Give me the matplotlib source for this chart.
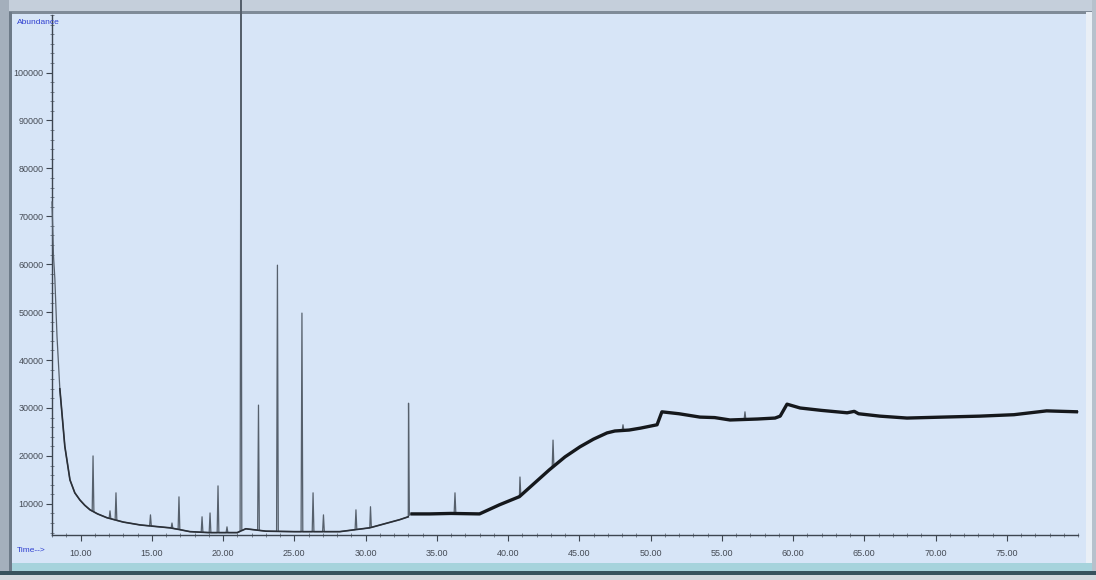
import numpy as np
import matplotlib
matplotlib.use("Agg")
import matplotlib.pyplot as plt
from matplotlib.patches import Rectangle
from matplotlib.ticker import MultipleLocator, FixedLocator

# ---- data ----
# baseline (time in min, abundance)
base_t = [8.0, 8.1, 8.2, 8.35, 8.55, 8.9, 9.26, 9.6, 9.96, 10.3, 10.67, 11.2, 11.86,
          13.0, 14.18, 15.2, 16.28, 17.0, 17.68, 19.0, 21.0, 21.6, 23.0, 25.0, 28.2,
          30.3, 32.4, 33.0, 33.15, 34.5, 36.0, 38.0, 39.4, 40.8, 42.9, 44.0, 45.05,
          46.0, 46.95, 47.5, 48.5, 49.3, 50.46, 50.8, 52.0, 53.47, 54.5, 55.58, 57.5,
          58.74, 59.1, 59.58, 60.5, 62.0, 63.8, 64.3, 64.6, 66.1, 68.0, 70.5, 73.1,
          75.5, 77.8, 80.0]
base_a = [73000, 62000, 57000, 45000, 34000, 22000, 15000, 12300, 10800, 9700, 8750, 7900, 7100,
          6200, 5600, 5300, 5000, 4600, 4200, 4000, 4000, 4800, 4300, 4200, 4200,
          5000, 6700, 7300, 7900, 7900, 8000, 7900, 9800, 11500, 17100, 19800, 21900,
          23500, 24800, 25200, 25400, 25800, 26500, 29200, 28800, 28100, 28000, 27500, 27700,
          27900, 28300, 30800, 30000, 29500, 29000, 29300, 28800, 28300, 27900, 28100, 28300,
          28600, 29400, 29200]
# peaks (retention time in min, apex abundance)
peak_t = [10.88, 12.07, 12.49, 14.91, 16.42, 16.91, 18.53, 19.09, 19.65, 20.28,
          21.26, 22.49, 23.82, 25.54, 26.32, 27.05, 29.33, 30.35, 33.02, 36.28,
          40.84, 43.16, 48.07, 56.63]
peak_a = [20000, 8540, 12300, 7700, 6000, 11460, 7300, 8100, 13750, 5200,
          118000, 30600, 59800, 49800, 12300, 7700, 8750, 9400, 31000, 12300,
          15600, 23300, 26500, 29200]

y_ticks = [10000, 20000, 30000, 40000, 50000, 60000, 70000, 80000, 90000, 100000]
x_ticks = [10, 15, 20, 25, 30, 35, 40, 45, 50, 55, 60, 65, 70, 75]
x_labels = ["%.2f" % v for v in x_ticks]

# ---- build trace: baseline plus narrow peaks ----
w = 0.06
pts = list(zip(base_t, base_a))
for t, a in zip(peak_t, peak_a):
    pts.append((t - w, float(np.interp(t - w, base_t, base_a))))
    pts.append((t, a))
    pts.append((t + w, float(np.interp(t + w, base_t, base_a))))
pts.sort(key=lambda p: p[0])
tr_t = [p[0] for p in pts]
tr_a = [p[1] for p in pts]

BG = "#d7e5f7"
fig = plt.figure(figsize=(10.96, 5.8), dpi=100, facecolor=BG)

# window chrome
def frect(x0, y0, x1, y1, color):
    fig.patches.append(Rectangle((x0 / 1096, 1 - y1 / 580), (x1 - x0) / 1096, (y1 - y0) / 580,
                                 transform=fig.transFigure, facecolor=color,
                                 edgecolor="none", zorder=-5))
frect(0, 0, 1096, 12, "#c5cfdb")
frect(0, 11, 1096, 14, "#7f8b98")
frect(0, 0, 9, 580, "#a4afbc")
frect(9, 12, 12, 580, "#6d7a88")
frect(1086, 12, 1092, 580, "#e9eff6")
frect(1092, 0, 1096, 580, "#b7c1cc")
frect(12, 563, 1092, 571, "#a6d3dc")
frect(0, 571, 1096, 575, "#37525d")
frect(0, 575, 1096, 580, "#d2d8de")

ax = fig.add_axes([52 / 1096, 1 - 535 / 580, (1078 - 52) / 1096, (535 - 15) / 580])
ax.set_facecolor(BG)
ax.plot(tr_t, tr_a, color="#56606c", lw=0.9, clip_on=False, zorder=3)
late = [i for i, t in enumerate(base_t) if t >= 33.15]
ax.plot([base_t[i] for i in late], [base_a[i] for i in late], color="#15181c",
        lw=2.4, solid_capstyle="butt", zorder=4)
early = [i for i, t in enumerate(base_t) if 8.5 <= t <= 33.0]
ax.plot([base_t[i] for i in early], [base_a[i] for i in early], color="#2b3038",
        lw=1.2, zorder=4)

ax.set_xlim(8.0, 80.0)
ax.set_ylim(3500, 112000)
for s in ("top", "right"):
    ax.spines[s].set_visible(False)
for s in ("left", "bottom"):
    ax.spines[s].set_color("#3d4550")
    ax.spines[s].set_linewidth(1.0)

lab_font = dict(family=["Liberation Sans Narrow", "Liberation Sans", "DejaVu Sans"], size=6.5)
ax.yaxis.set_major_locator(FixedLocator(y_ticks))
ax.set_yticklabels([str(v) for v in y_ticks], color="#454b55", **lab_font)
ax.yaxis.set_minor_locator(MultipleLocator(2000))
ax.xaxis.set_major_locator(FixedLocator(x_ticks))
ax.set_xticklabels(x_labels, color="#454b55", **lab_font)
ax.xaxis.set_minor_locator(MultipleLocator(1))
ax.tick_params(axis="both", which="major", direction="out", length=4, width=0.8,
               color="#3d4550", pad=2)
ax.tick_params(axis="both", which="minor", direction="inout", length=3, width=0.6,
               color="#6a7380")
ax.tick_params(axis="x", which="major", pad=6)

fig.text(17 / 1096, 1 - 22 / 580, "Abundance", color="#2f3fd0", fontsize=6,
         family=["Liberation Sans Narrow", "Liberation Sans", "DejaVu Sans"],
         va="center", ha="left")
fig.text(17 / 1096, 1 - 551 / 580, "Time-->", color="#2f3fd0", fontsize=6,
         family=["Liberation Sans Narrow", "Liberation Sans", "DejaVu Sans"],
         va="center", ha="left")

fig.savefig("out.png", dpi=100, facecolor=BG)
